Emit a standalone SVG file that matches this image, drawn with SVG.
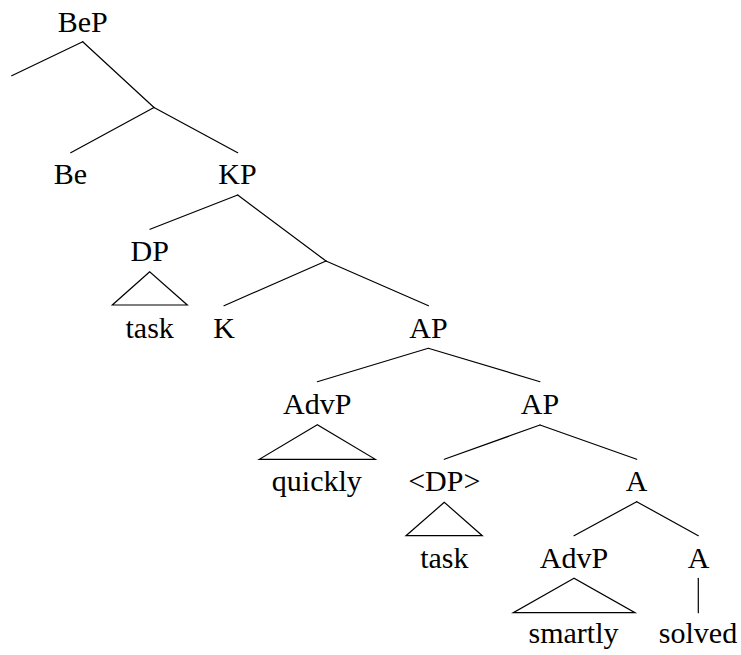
<svg xmlns="http://www.w3.org/2000/svg" width="741" height="655" viewBox="0 0 741 655">
<style>
.edge{stroke:#000;stroke-width:1.2;fill:none;stroke-linecap:round;stroke-linejoin:miter}
</style>
<rect width="741" height="655" fill="#fff"/>
<g id="connectors" class="edge">
<line x1="82.7" y1="41.7" x2="11.7" y2="75.7"/>
<line x1="82.7" y1="41.7" x2="154" y2="107.5"/>
<line x1="154" y1="107.5" x2="70.7" y2="152.7"/>
<line x1="154" y1="107.5" x2="237.7" y2="152.7"/>
<line x1="237.7" y1="195" x2="150" y2="229.3"/>
<line x1="237.7" y1="195" x2="326" y2="261"/>
<polygon points="149.7,271.7 112.3,305 187.3,305"/>
<line x1="326" y1="261" x2="224" y2="305.7"/>
<line x1="326" y1="261" x2="428.5" y2="305.7"/>
<line x1="428.3" y1="348.3" x2="317.3" y2="381.7"/>
<line x1="428.3" y1="348.3" x2="540" y2="381.7"/>
<polygon points="317.3,424.7 259.3,459.3 375.3,459.3"/>
<line x1="540" y1="425" x2="444.3" y2="459.3"/>
<line x1="540" y1="425" x2="636.7" y2="459.3"/>
<polygon points="444.3,502.3 406,535.7 482.3,535.7"/>
<line x1="636.7" y1="501.7" x2="574" y2="535.7"/>
<line x1="636.7" y1="501.7" x2="698.3" y2="535.7"/>
<polygon points="574,578.3 513.3,612.7 635,612.7"/>
<line x1="698.3" y1="578.3" x2="698.3" y2="612.7"/>
</g>
<g id="nodes" font-family="Liberation Serif" font-size="30" fill="#000" text-anchor="middle">
<g id="node-BeP"><text font-family="Liberation Serif" font-size="30" text-anchor="middle" x="82.7" y="31.7">BeP</text></g>
<g id="node-Be"><text font-family="Liberation Serif" font-size="30" text-anchor="middle" x="70.5" y="184">Be</text></g>
<g id="node-KP"><text font-family="Liberation Serif" font-size="30" text-anchor="middle" x="237.5" y="184">KP</text></g>
<g id="node-DP"><text font-family="Liberation Serif" font-size="30" text-anchor="middle" x="149.8" y="261">DP</text></g>
<g id="node-task1"><text font-family="Liberation Serif" font-size="30" text-anchor="middle" x="149.7" y="338">task</text></g>
<g id="node-K"><text font-family="Liberation Serif" font-size="30" text-anchor="middle" x="224" y="338">K</text></g>
<g id="node-AP1"><text font-family="Liberation Serif" font-size="30" text-anchor="middle" x="428.4" y="338">AP</text></g>
<g id="node-AdvP1"><text font-family="Liberation Serif" font-size="30" text-anchor="middle" x="317.3" y="414">AdvP</text></g>
<g id="node-AP2"><text font-family="Liberation Serif" font-size="30" text-anchor="middle" x="540" y="414">AP</text></g>
<g id="node-quickly"><text font-family="Liberation Serif" font-size="30" text-anchor="middle" x="316.8" y="491">quickly</text></g>
<g id="node-DPtrace"><text font-family="Liberation Serif" font-size="30" text-anchor="middle" x="444.3" y="491">&lt;DP&gt;</text></g>
<g id="node-A1"><text font-family="Liberation Serif" font-size="30" text-anchor="middle" x="636.7" y="491">A</text></g>
<g id="node-task2"><text font-family="Liberation Serif" font-size="30" text-anchor="middle" x="444.3" y="568">task</text></g>
<g id="node-AdvP2"><text font-family="Liberation Serif" font-size="30" text-anchor="middle" x="574" y="568">AdvP</text></g>
<g id="node-A2"><text font-family="Liberation Serif" font-size="30" text-anchor="middle" x="698.5" y="568">A</text></g>
<g id="node-smartly"><text font-family="Liberation Serif" font-size="30" text-anchor="middle" x="573.5" y="643">smartly</text></g>
<g id="node-solved"><text font-family="Liberation Serif" font-size="30" text-anchor="middle" x="698" y="643">solved</text></g>
</g>
</svg>
